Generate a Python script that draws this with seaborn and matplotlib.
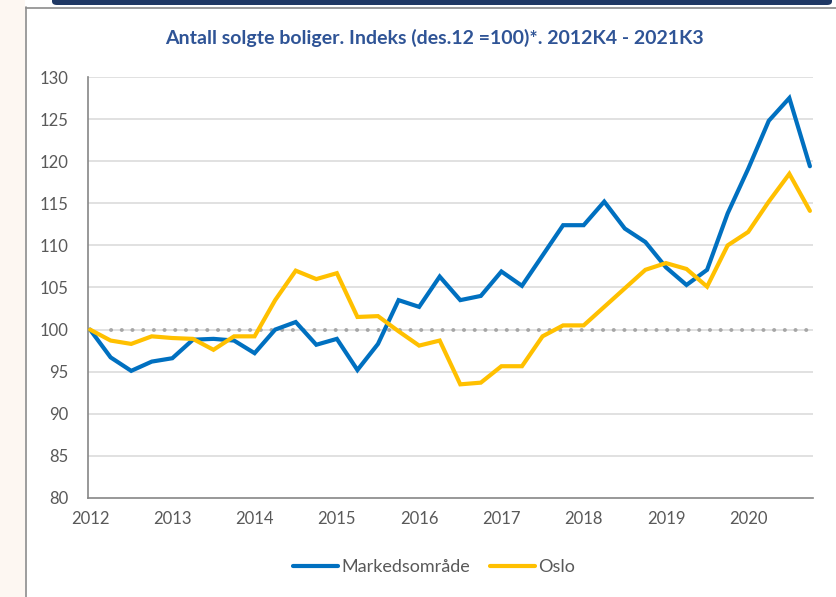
import numpy as np
import pandas as pd
import matplotlib
matplotlib.use("Agg")
import matplotlib.pyplot as plt
import matplotlib.patches as mpatches
import seaborn as sns

# ---- data (2012K4 - 2021K3, quarterly) ----
quarters = [f"{y}K{q}" for y in range(2012, 2022) for q in range(1, 5)][3:3 + 36]
markedsomrade = [100.0, 96.7, 95.1, 96.2, 96.6, 98.8, 98.9, 98.7, 97.2, 100.0,
                 100.9, 98.2, 98.9, 95.2, 98.3, 103.5, 102.7, 106.3, 103.5, 104.0,
                 106.9, 105.2, 108.8, 112.4, 112.4, 115.2, 112.0, 110.4, 107.4, 105.3,
                 107.1, 113.8, 119.1, 124.8, 127.5, 119.4]
oslo = [100.0, 98.7, 98.3, 99.2, 99.0, 98.9, 97.6, 99.2, 99.2, 103.5,
        107.0, 106.0, 106.7, 101.5, 101.6, 99.8, 98.1, 98.7, 93.5, 93.7,
        95.65, 95.65, 99.2, 100.5, 100.5, 102.7, 104.9, 107.1, 107.9, 107.2,
        105.1, 110.0, 111.6, 115.2, 118.5, 114.1]
year_labels = ["2012", "2013", "2014", "2015", "2016", "2017", "2018", "2019", "2020"]
y_ticks = [80, 85, 90, 95, 100, 105, 110, 115, 120, 125, 130]
series_names = ["Markedsområde", "Oslo"]
colors = ["#0070C0", "#FFC000"]
title = "Antall solgte boliger. Indeks (des.12 =100)*. 2012K4 - 2021K3"

idx = np.arange(len(quarters))
df = pd.DataFrame({
    "idx": np.concatenate([idx, idx]),
    "verdi": markedsomrade + oslo,
    "serie": [series_names[0]] * len(idx) + [series_names[1]] * len(idx),
})

sns.set_theme(style="white")
plt.rcParams["font.family"] = ["Lato", "DejaVu Sans"]

fig = plt.figure(figsize=(8.36, 5.97), dpi=100)
fig.patch.set_facecolor("white")

# decorative frame
fig.add_artist(mpatches.Rectangle((0, 0), 25 / 836, 1, transform=fig.transFigure,
                                  facecolor="#FDF7F2", edgecolor="none", zorder=0))
fig.add_artist(plt.Line2D([25.5 / 836, 25.5 / 836], [0, 1 - 7 / 597], transform=fig.transFigure,
                          color="#8C8C8C", lw=1.2))
fig.add_artist(plt.Line2D([25.5 / 836, 1], [1 - 7.5 / 597, 1 - 7.5 / 597], transform=fig.transFigure,
                          color="#8C8C8C", lw=1.2))
fig.add_artist(mpatches.FancyBboxPatch((52 / 836, 1 - 5 / 597), 780 / 836, 10 / 597,
                                       boxstyle="round,pad=0,rounding_size=0.006",
                                       transform=fig.transFigure, facecolor="#1F3864",
                                       edgecolor="none"))

ax = fig.add_axes([88 / 836, 1 - 498 / 597, (813 - 88) / 836, (498 - 77) / 597])
ax.set_facecolor("white")

for y in y_ticks[1:]:
    ax.axhline(y, color="#D9D9D9", lw=1.1, zorder=0)

# reference line at 100
ax.plot(idx[1:], [100] * (len(idx) - 1), color="#A6A6A6", lw=2.8,
        linestyle=(0, (0.05, 2.7)), dash_capstyle="round", zorder=1)

sns.lineplot(data=df, x="idx", y="verdi", hue="serie", palette=colors,
             hue_order=series_names, lw=3.0, ax=ax, legend=False, zorder=3,
             solid_joinstyle="miter")

ax.set_xlim(-0.1, 35.15)
ax.set_ylim(80, 130)
ax.set_xticks(idx[::4][:len(year_labels)])
ax.set_xticklabels(year_labels)
ax.set_yticks(y_ticks)
ax.set_yticklabels([str(v) for v in y_ticks])
ax.tick_params(axis="both", length=0, labelsize=12, labelcolor="#595959")
ax.tick_params(axis="y", pad=14)
ax.tick_params(axis="x", pad=9)
ax.set_xlabel("")
ax.set_ylabel("")
for s in ["top", "right"]:
    ax.spines[s].set_visible(False)
for s in ["left", "bottom"]:
    ax.spines[s].set_color("#868686")
    ax.spines[s].set_linewidth(1.2)

fig.text(434 / 836, 1 - 38 / 597, title, ha="center", va="center",
         fontsize=14, fontweight="bold", color="#2F5496")

handles = [plt.Line2D([], [], color=c, lw=3.0, solid_capstyle="round") for c in colors]
fig.legend(handles, series_names, loc="center", bbox_to_anchor=(434 / 836, 1 - 567 / 597),
           ncol=2, frameon=False, fontsize=13, labelcolor="#595959",
           handlelength=2.5, handletextpad=0.2, columnspacing=1.1)

fig.savefig("out.png", dpi=100)
